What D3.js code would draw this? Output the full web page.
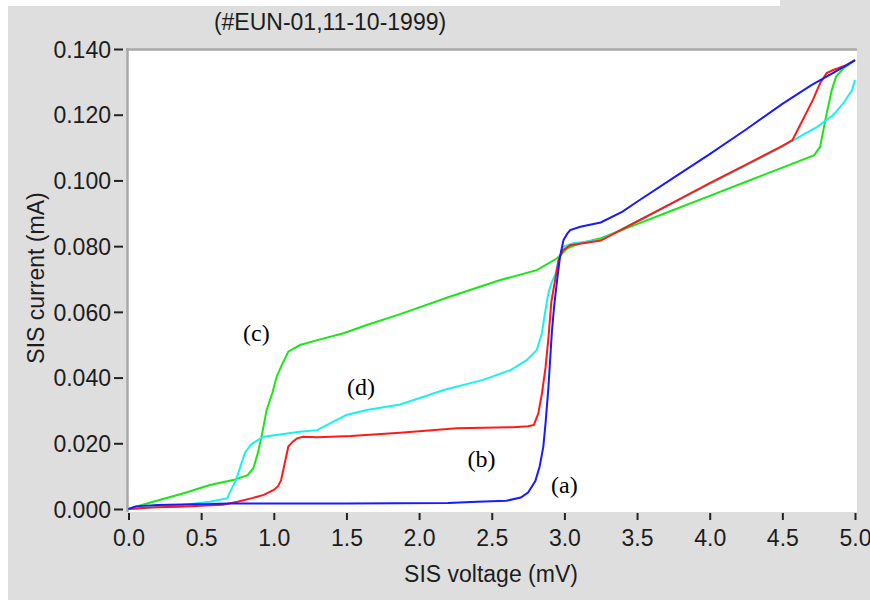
<!DOCTYPE html>
<html><head><meta charset="utf-8">
<script src="https://cdn.jsdelivr.net/npm/d3@7"></script>
<style>
html,body{margin:0;padding:0;background:#dedede;}
svg{display:block;}
</style></head>
<body>
<svg id="chart" width="870" height="600"></svg>
<script>
const title = "(#EUN-01,11-10-1999)";
const xLabel = "SIS voltage (mV)";
const yLabel = "SIS current (mA)";
const xTicks = [0,0.5,1.0,1.5,2.0,2.5,3.0,3.5,4.0,4.5,5.0];
const yTicks = [0,0.02,0.04,0.06,0.08,0.10,0.12,0.14];

// (a) blue
const aV = [0,0.05,0.2,0.7,1.5,2.2,2.4,2.6,2.7,2.75,2.8,2.83,2.855,2.87,2.89,2.914,2.93,2.95,2.97,2.994,3.02,3.04,3.11,3.25,3.4,3.5,3.75,4.0,4.25,4.5,4.7,4.85,4.94,5.0];
const aI = [0,0.0008,0.0012,0.0017,0.0017,0.0018,0.0022,0.0025,0.0035,0.005,0.0085,0.013,0.019,0.026,0.037,0.054,0.062,0.0697,0.0768,0.0819,0.0838,0.0849,0.0859,0.0872,0.0905,0.0935,0.1008,0.108,0.1155,0.1233,0.129,0.1327,0.135,0.1366];
// (b) red
const bV = [0,0.1,0.2,0.35,0.5,0.65,0.75,0.85,0.93,1.0,1.03,1.05,1.08,1.1,1.13,1.16,1.2,1.3,1.53,1.87,2.26,2.65,2.75,2.79,2.82,2.845,2.87,2.89,2.91,2.94,2.96,2.99,3.04,3.25,3.5,3.75,4.0,4.25,4.5,4.57,4.64,4.71,4.76,4.805,4.85,4.94,5.0];
const bI = [0,0.0003,0.0005,0.0007,0.001,0.0013,0.0022,0.0033,0.0043,0.0058,0.007,0.0088,0.0149,0.019,0.0205,0.0215,0.022,0.0218,0.0222,0.0232,0.0246,0.0249,0.0252,0.0256,0.029,0.035,0.043,0.052,0.063,0.0707,0.0758,0.0788,0.0803,0.0817,0.0875,0.0933,0.0992,0.1048,0.1105,0.1123,0.1184,0.1245,0.1296,0.1327,0.1336,0.1351,0.1366];
// (c) green
const cV = [0,0.05,0.17,0.38,0.56,0.72,0.82,0.86,0.89,0.92,0.95,0.99,1.02,1.06,1.10,1.18,1.30,1.48,1.64,1.87,2.21,2.56,2.81,2.95,3.02,3.11,3.25,3.5,3.75,4.0,4.25,4.5,4.72,4.76,4.805,4.84,4.87,4.92,5.0];
const cI = [0,0.0007,0.0022,0.0048,0.0073,0.0088,0.0103,0.0125,0.017,0.023,0.030,0.0353,0.0403,0.0443,0.0479,0.0499,0.0514,0.0535,0.056,0.0593,0.0646,0.0697,0.0727,0.0763,0.0793,0.0809,0.0824,0.0867,0.091,0.0953,0.0996,0.1039,0.1077,0.1103,0.1204,0.1275,0.1316,0.1341,0.1366];
// (d) cyan
const dV = [0,0.03,0.2,0.37,0.56,0.68,0.70,0.74,0.77,0.80,0.84,0.873,0.93,1.18,1.30,1.34,1.41,1.5,1.64,1.87,2.17,2.44,2.63,2.74,2.81,2.845,2.87,2.89,2.91,2.94,2.96,2.99,3.06,3.25,3.5,3.75,4.0,4.25,4.46,4.62,4.74,4.85,4.92,4.98,5.0];
const dI = [0,0,0.0007,0.0012,0.0022,0.0033,0.0053,0.0088,0.0129,0.017,0.0195,0.0205,0.022,0.0235,0.024,0.025,0.0266,0.0286,0.0301,0.0318,0.0362,0.0393,0.0423,0.0453,0.0484,0.0535,0.0606,0.0657,0.0687,0.0717,0.0758,0.0798,0.0809,0.0819,0.0875,0.0932,0.0989,0.1045,0.1093,0.1133,0.1163,0.1199,0.1235,0.1275,0.1306];

const labels = ["(a)","(b)","(c)","(d)"];
const labelV = [3.0, 2.43, 0.88, 1.6];
const labelI = [0.0066, 0.0146, 0.0530, 0.0365];

const svg = d3.select("#chart");
const W = 870, H = 600;
svg.append("rect").attr("width",W).attr("height",H).attr("fill","#dedede");
svg.append("rect").attr("x",0).attr("y",0).attr("width",8).attr("height",H).attr("fill","#ffffff");
svg.append("rect").attr("x",0).attr("y",0).attr("width",780).attr("height",6).attr("fill","#ffffff");

const x = d3.scaleLinear().domain([0,5]).range([128.5,855]);
const y = d3.scaleLinear().domain([0,0.14]).range([509,49]);

// plot area
svg.append("rect").attr("x",128).attr("y",50).attr("width",729).attr("height",462).attr("fill","#ffffff");
svg.append("line").attr("x1",126).attr("x2",857).attr("y1",49.5).attr("y2",49.5).attr("stroke","#a8a8a8").attr("stroke-width",2.5);
svg.append("line").attr("x1",127.5).attr("x2",127.5).attr("y1",48).attr("y2",512).attr("stroke","#a8a8a8").attr("stroke-width",2.5);

const font = "'Liberation Sans', Arial, sans-serif";
const txtColor = "#1c1c1c";

// x axis
const gx = svg.append("g").attr("transform","translate(0,513)")
  .call(d3.axisBottom(x).tickValues(xTicks).tickFormat(d3.format(".1f")).tickSize(7).tickSizeOuter(0));
gx.select(".domain").remove();
gx.selectAll(".tick line").attr("stroke","#222").attr("stroke-width",2);
gx.selectAll(".tick text").attr("y",33).attr("dy",0).attr("fill",txtColor)
  .style("font-family",font).style("font-size","23px");

// y axis
const gy = svg.append("g").attr("transform","translate(123,0)")
  .call(d3.axisLeft(y).tickValues(yTicks).tickFormat(d3.format(".3f")).tickSize(9).tickSizeOuter(0));
gy.select(".domain").remove();
gy.selectAll(".tick line").attr("stroke","#222").attr("stroke-width",2);
gy.selectAll(".tick text").attr("x",-12).attr("dy","0.36em").attr("fill",txtColor)
  .style("font-family",font).style("font-size","23px");

// title & axis labels
svg.append("text").attr("x",330).attr("y",30).attr("text-anchor","middle")
  .style("font-family",font).style("font-size","23px").attr("fill",txtColor).text(title);
svg.append("text").attr("x",491).attr("y",582).attr("text-anchor","middle")
  .style("font-family",font).style("font-size","23px").attr("fill",txtColor).text(xLabel);
svg.append("text").attr("transform","translate(44,278) rotate(-90)").attr("text-anchor","middle")
  .style("font-family",font).style("font-size","23px").attr("fill",txtColor).text(yLabel);

// curves
const line = d3.line().x(d=>x(d[0])).y(d=>y(d[1]));
const series = [
  {V:cV, I:cI, color:"#19e619"},
  {V:dV, I:dI, color:"#19f0f0"},
  {V:bV, I:bI, color:"#ff1a1a"},
  {V:aV, I:aI, color:"#1a1aff"}
];
series.forEach(s=>{
  svg.append("path").datum(d3.zip(s.V,s.I)).attr("d",line)
    .attr("fill","none").attr("stroke",s.color).attr("stroke-width",2);
});

// annotations
labels.forEach((t,i)=>{
  svg.append("text").attr("x",x(labelV[i])).attr("y",y(labelI[i])+6).attr("text-anchor","middle")
    .style("font-family","'Liberation Serif','Times New Roman',serif").style("font-size","24px")
    .attr("fill","#000").text(t);
});
</script>
</body></html>
